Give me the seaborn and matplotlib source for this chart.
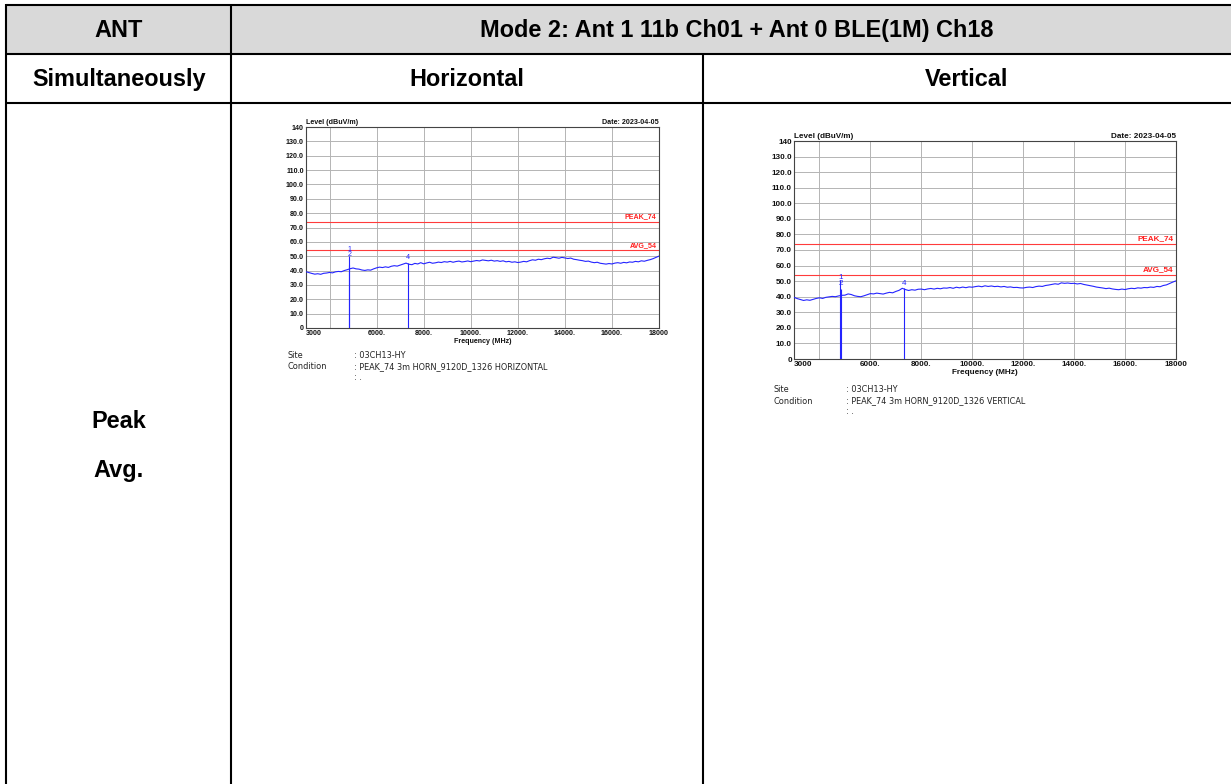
import numpy as np
import pandas as pd
import matplotlib
matplotlib.use("Agg")
import matplotlib.pyplot as plt
import seaborn as sns

# ---------------- data ----------------
header_left = "ANT"
header_mode = "Mode 2: Ant 1 11b Ch01 + Ant 0 BLE(1M) Ch18"
row2_labels = ["Simultaneously", "Horizontal", "Vertical"]
row3_labels = ["Peak", "Avg."]

freq_mhz = list(range(3000, 18001, 125))

level_horizontal = [
    39.2, 38.6, 38.0, 37.5, 37.8, 37.4, 38.1, 38.3,
    38.7, 38.4, 39.1, 39.4, 39.2, 40.0, 40.6, 41.3,
    41.8, 41.2, 41.0, 40.4, 40.1, 40.5, 40.3, 41.2,
    41.9, 42.4, 42.1, 42.6, 42.2, 43.0, 43.4, 43.1,
    43.8, 44.5, 45.2, 44.4, 44.1, 45.0, 44.6, 45.5,
    44.7, 45.3, 45.8, 45.1, 45.4, 45.9, 45.6, 46.2,
    45.9, 46.4, 45.8, 46.3, 46.6, 46.0, 46.3, 46.7,
    46.2, 46.6, 47.0, 46.7, 47.4, 47.1, 46.8, 47.2,
    46.6, 46.9, 46.4, 46.8, 46.1, 46.4, 45.8, 46.1,
    45.6, 45.9, 46.4, 46.1, 46.9, 47.5, 47.2, 47.9,
    47.6, 48.2, 48.6, 48.3, 49.3, 49.0, 48.6, 49.2,
    48.8, 48.4, 48.7, 47.9, 47.6, 47.2, 46.9, 46.4,
    46.6, 45.9, 45.5, 45.8, 45.1, 44.8, 44.5, 44.9,
    44.6, 45.2, 45.5, 45.1, 45.7, 45.4, 46.0, 45.8,
    46.4, 46.1, 46.8, 46.5, 47.1, 47.6, 48.3, 49.2,
    50.1]

level_vertical = [
    39.6, 38.8, 38.2, 37.6, 38.0, 37.7, 38.3, 38.9,
    39.3, 38.9, 39.6, 39.9, 40.2, 40.0, 40.5, 40.9,
    41.0, 41.8, 41.4, 40.6, 40.2, 40.0, 40.6, 41.3,
    42.0, 41.8, 42.3, 42.0, 41.7, 42.3, 42.8, 42.5,
    43.4, 44.1, 45.4, 44.6, 44.0, 44.5, 44.2, 44.8,
    44.9, 44.5, 45.0, 45.3, 44.9, 45.4, 45.1, 45.6,
    45.5, 45.9, 45.4, 46.1, 45.7, 46.2, 45.8, 46.3,
    46.1, 46.5, 46.8, 46.4, 47.0, 46.6, 46.9, 46.5,
    46.7, 46.3, 46.6, 46.1, 46.3, 45.9, 46.0, 45.7,
    45.6, 46.0, 46.2, 45.9, 46.5, 46.8, 46.6, 47.2,
    47.5, 47.9, 48.3, 48.0, 48.9, 48.6, 48.8, 48.5,
    48.6, 48.2, 48.5, 47.9, 47.5, 47.1, 46.7, 46.2,
    45.9, 45.6, 45.2, 45.5, 45.0, 44.7, 44.5, 44.9,
    44.6, 45.1, 45.4, 45.2, 45.7, 45.5, 45.9, 45.8,
    46.2, 46.0, 46.6, 46.4, 47.2, 47.6, 48.5, 49.4,
    50.2]

marker_freq_h = [4830, 4845, 7330]
marker_level_h = [50.0, 44.0, 45.5]
marker_label_h = ["1", "2", "4"]
marker_text_level_h = [52.5, 49.0, 46.5]

marker_freq_v = [4820, 4850, 7325]
marker_level_v = [51.0, 45.0, 45.5]
marker_label_v = ["1", "2", "4"]
marker_text_level_v = [50.0, 46.5, 46.5]

limit_values = [74, 54]
limit_labels = ["PEAK_74", "AVG_54"]

y_ticks = list(range(0, 141, 10))
y_ticklabels = ["0"] + [f"{v}.0" for v in range(10, 131, 10)] + ["140"]
x_ticks = [3000, 6000, 8000, 10000, 12000, 14000, 16000, 18000]
x_ticklabels = ["3000", "6000.", "8000.", "10000.", "12000.", "14000.", "16000.", "18000"]
x_grid = [4000, 6000, 8000, 10000, 12000, 14000, 16000]

site_text = ": 03CH13-HY"
cond_h = ": PEAK_74 3m HORN_9120D_1326 HORIZONTAL"
cond_v = ": PEAK_74 3m HORN_9120D_1326 VERTICAL"
date_text = "Date: 2023-04-05"

# ---------------- figure ----------------
sns.set_theme(style="white")
plt.rcParams["font.family"] = ["Liberation Sans", "DejaVu Sans"]
plt.rcParams["text.color"] = "black"

W, H = 1231, 784
fig = plt.figure(figsize=(W / 100, H / 100), dpi=100)
fig.patch.set_facecolor("white")

bg = fig.add_axes([0, 0, 1, 1])
bg.set_xlim(0, W)
bg.set_ylim(H, 0)
bg.axis("off")

# header fill
bg.fill_between([6, W], 5, 54, color="#D9D9D9", lw=0, zorder=0)
lw_tab = 1.5
for y in [5, 54, 103]:
    bg.plot([6, W], [y, y], color="black", lw=lw_tab, solid_capstyle="butt")
bg.plot([6, 6], [4, H], color="black", lw=lw_tab, solid_capstyle="butt")
bg.plot([231, 231], [4, H], color="black", lw=lw_tab, solid_capstyle="butt")
bg.plot([703, 703], [54, H], color="black", lw=lw_tab, solid_capstyle="butt")

tfs = 16.9
tk = dict(ha="center", va="center", fontsize=tfs, fontweight="bold", color="black")
bg.text(118.5, 30, header_left, **tk)
bg.text(737, 30, header_mode, **tk)
bg.text(119.5, 79, row2_labels[0], **tk)
bg.text(467, 79, row2_labels[1], **tk)
bg.text(967, 79, row2_labels[2], **tk)
bg.text(118.5, 421, row3_labels[0], **tk)
bg.text(118.5, 470, row3_labels[1], **tk)


def make_chart(left, top, right, bottom, level, mfreq, mlevel, mlabel, mtext,
               fs, site_xy, cond_text, lab_x, sfs):
    ax = fig.add_axes([left / W, 1 - bottom / H, (right - left) / W, (bottom - top) / H])
    ax.set_facecolor("white")
    ax.set_xlim(3000, 18000)
    ax.set_ylim(0, 140)
    for gx in x_grid:
        ax.axvline(gx, color="#B4B4B4", lw=0.7, zorder=1)
    for gy in range(10, 140, 10):
        ax.axhline(gy, color="#B4B4B4", lw=0.7, zorder=1)
    for lv, lb in zip(limit_values, limit_labels):
        ax.axhline(lv, color="#FF3B3B", lw=0.8, zorder=2)
        ax.text(17900, lv + 1.2, lb, ha="right", va="bottom", color="#FF2020",
                fontsize=fs, fontweight="bold")
    df = pd.DataFrame({"freq": freq_mhz, "level": level})
    sns.lineplot(data=df, x="freq", y="level", ax=ax, color="#2424FF", lw=0.8, zorder=3)
    ax.vlines(mfreq, 0, mlevel, color="#2424FF", lw=0.8, zorder=3)
    for f, t, l in zip(mfreq, mtext, mlabel):
        ax.text(f, t, l, ha="center", va="bottom", color="#2424FF", fontsize=fs)
    ax.set_xticks(x_ticks)
    ax.set_xticklabels(x_ticklabels, fontsize=fs, fontweight="bold", color="#111111")
    ax.set_yticks(y_ticks)
    ax.set_yticklabels(y_ticklabels, fontsize=fs, fontweight="bold", color="#111111")
    xl = ax.get_xticklabels()
    xl[0].set_horizontalalignment("left")
    xl[-1].set_horizontalalignment("center")
    ax.tick_params(axis="both", length=0, pad=1.5)
    ax.set_xlabel("Frequency (MHz)", fontsize=fs, fontweight="bold", labelpad=1, color="#111111")
    ax.set_ylabel("")
    for s in ax.spines.values():
        s.set_color("#444444")
        s.set_linewidth(0.8)
    ax.text(0.0, 1.005, "Level (dBuV/m)", transform=ax.transAxes, ha="left", va="bottom",
            fontsize=fs, fontweight="bold", color="#111111")
    ax.text(1.0, 1.005, date_text, transform=ax.transAxes, ha="right", va="bottom",
            fontsize=fs, fontweight="bold", color="#111111")
    sx, sy = site_xy
    st = dict(fontsize=sfs, va="center", family="DejaVu Sans", color="#222222")
    fig.text(sx / W, 1 - sy / H, "Site", **st)
    fig.text(lab_x / W, 1 - sy / H, site_text, **st)
    fig.text(sx / W, 1 - (sy + 11) / H, "Condition", **st)
    fig.text(lab_x / W, 1 - (sy + 11) / H, cond_text, **st)
    fig.text(lab_x / W, 1 - (sy + 21) / H, ": .", **st)
    return ax


make_chart(306, 127, 659, 328, level_horizontal, marker_freq_h, marker_level_h,
           marker_label_h, marker_text_level_h, 5.1, (288, 356), cond_h, 354, 5.9)
make_chart(794, 141, 1176, 359, level_vertical, marker_freq_v, marker_level_v,
           marker_label_v, marker_text_level_v, 5.9, (774, 390), cond_v, 846, 5.9)

fig.savefig("out.png", dpi=100, facecolor="white")
